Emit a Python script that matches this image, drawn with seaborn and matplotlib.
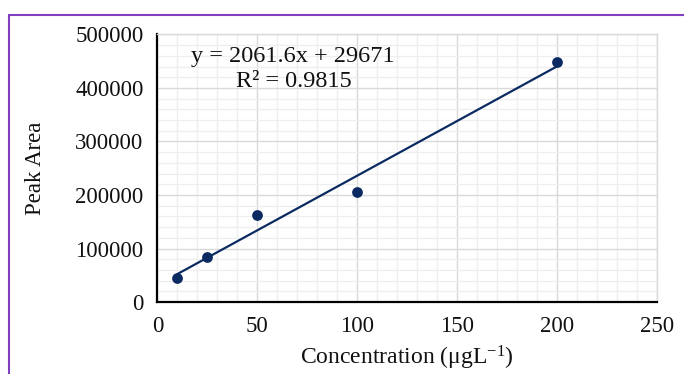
import numpy as np
import pandas as pd
import matplotlib
matplotlib.use("Agg")
import matplotlib.pyplot as plt
from matplotlib.ticker import MultipleLocator
from matplotlib.lines import Line2D
import seaborn as sns

concentration = [10, 25, 50, 100, 200]
peak_area = [44500, 84500, 162000, 206000, 449000]
equation_text = "y = 2061.6x + 29671"
r2_text = "R² = 0.9815"
x_ticks = [0, 50, 100, 150, 200, 250]
y_ticks = [0, 100000, 200000, 300000, 400000, 500000]

sns.set_theme(style="white")
plt.rcParams["font.family"] = ["Liberation Serif", "DejaVu Serif"]
plt.rcParams["mathtext.fontset"] = "custom"
plt.rcParams["mathtext.rm"] = "Liberation Serif"
plt.rcParams["mathtext.it"] = "Liberation Serif:italic"

df = pd.DataFrame({"Concentration": concentration, "Peak Area": peak_area})

fig = plt.figure(figsize=(6.84, 3.74), dpi=100)
ax = fig.add_axes([0.2300, 0.1925, 0.7310, 0.7153])

navy = "#0B2A62"
ax.set_xlim(0, 250)
ax.set_ylim(0, 500000)
ax.xaxis.set_minor_locator(MultipleLocator(10))
ax.yaxis.set_minor_locator(MultipleLocator(20000))
ax.grid(which="major", color="#d9d9d9", linewidth=1.0)
ax.grid(which="minor", color="#eeeeee", linewidth=0.9)
ax.set_axisbelow(True)

sns.regplot(data=df, x="Concentration", y="Peak Area", ax=ax, ci=None,
            truncate=True, color=navy,
            scatter_kws={"s": 60, "zorder": 3, "linewidths": 0, "alpha": 1.0},
            line_kws={"linewidth": 1.6, "zorder": 2})

ax.set_xticks(x_ticks)
ax.set_yticks(y_ticks)
ax.set_xticklabels([str(v) for v in x_ticks])
ax.set_yticklabels([str(v) for v in y_ticks])
ax.tick_params(axis="both", which="major", direction="out", length=5, width=1.5,
               color="black", labelsize=16.5, pad=5, labelcolor="#111111")
ax.tick_params(axis="both", which="minor", length=0)

for s in ["left", "bottom"]:
    ax.spines[s].set_color("black")
    ax.spines[s].set_linewidth(1.6)
for s in ["top", "right"]:
    ax.spines[s].set_color("#d9d9d9")
    ax.spines[s].set_linewidth(1.0)

ax.set_xlabel(r"Concentration (μgL$^{\mathrm{-1}}$)", fontsize=17, labelpad=5, color="#111111")
ax.set_ylabel("Peak Area", fontsize=16.5, labelpad=21, color="#111111")

ax.text(0.270, 0.917, equation_text, transform=ax.transAxes, ha="center", va="center",
        fontsize=17.5, color="#111111")
ax.text(0.273, 0.826, r2_text, transform=ax.transAxes, ha="center", va="center",
        fontsize=17.5, color="#111111")

# purple frame (left and top edges visible)
purple = "#8040C0"
fig.add_artist(Line2D([8.5 / 684, 8.5 / 684], [0, 1 - 14.5 / 374], transform=fig.transFigure,
                      color=purple, linewidth=1.5))
fig.add_artist(Line2D([8.5 / 684, 1], [1 - 14.5 / 374, 1 - 14.5 / 374], transform=fig.transFigure,
                      color=purple, linewidth=1.5))

fig.savefig("out.png", dpi=100, facecolor="white")
